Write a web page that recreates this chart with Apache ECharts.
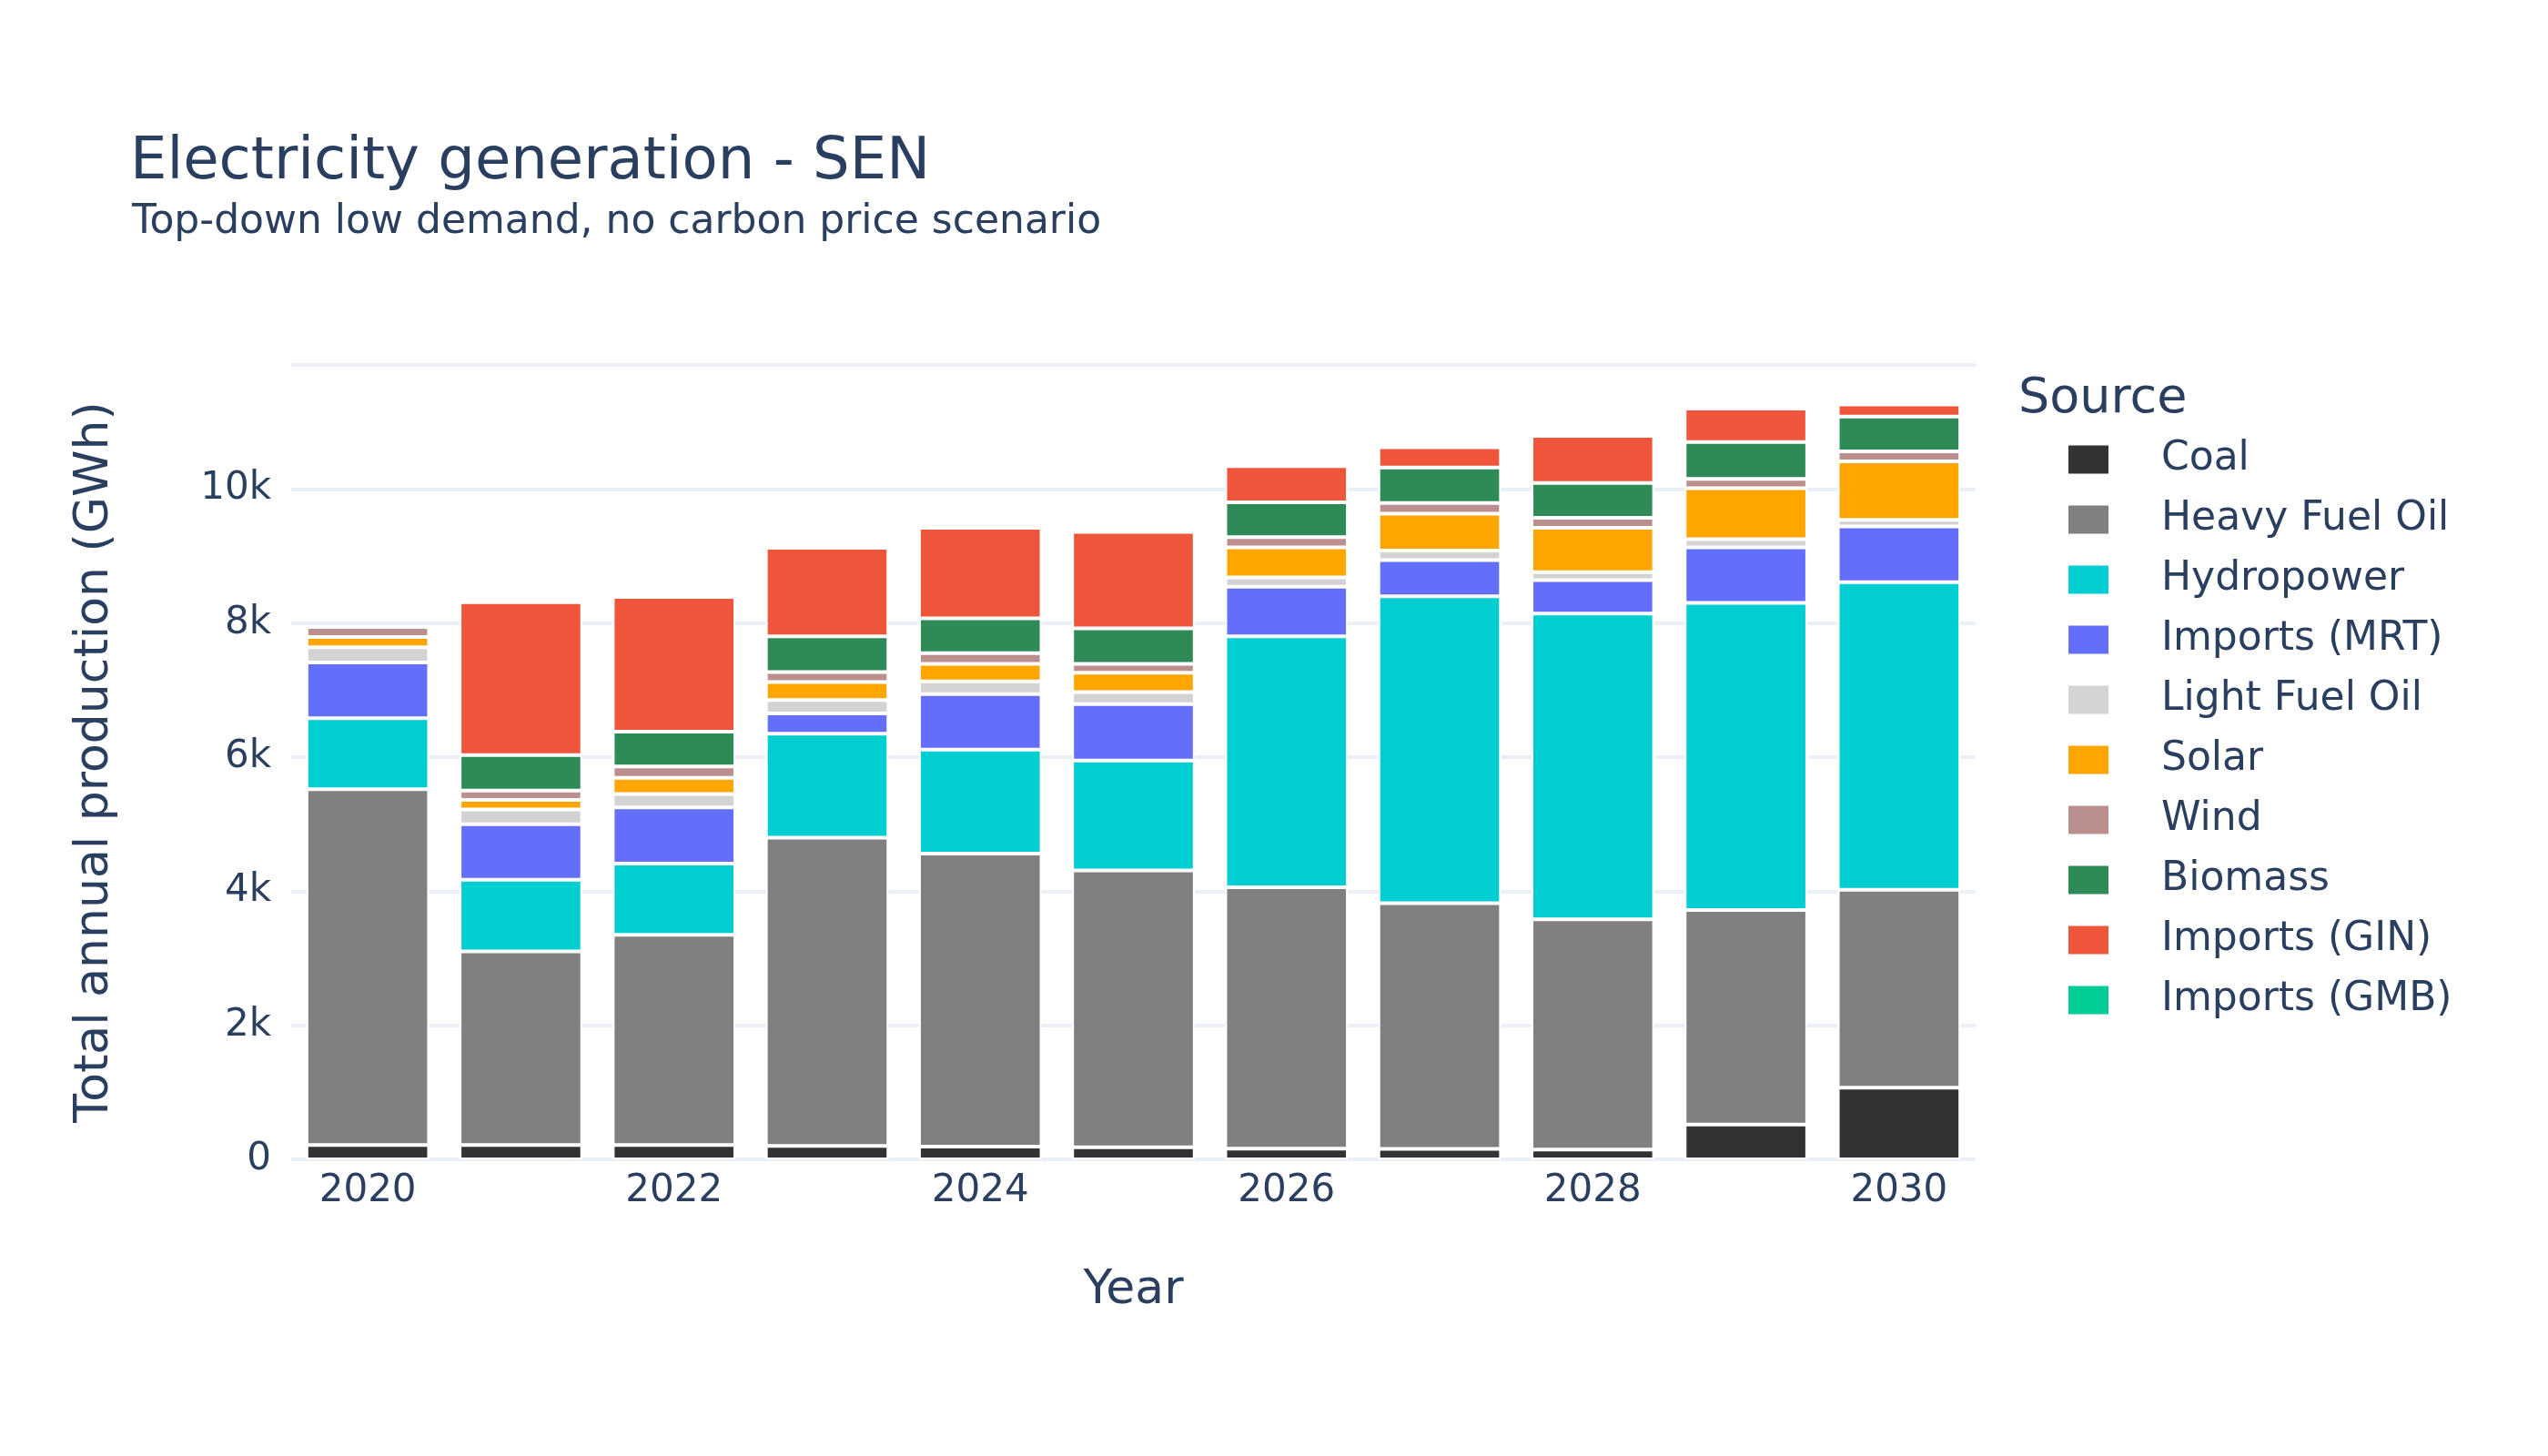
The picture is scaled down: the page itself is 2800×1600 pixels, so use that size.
<!DOCTYPE html>
<html><head><meta charset="utf-8">
<script src="https://cdn.jsdelivr.net/npm/echarts@6/dist/echarts.min.js"></script>
<style>html,body{margin:0;padding:0;background:#fff}#c{width:2800px;height:1600px}</style>
</head><body><div id="c"></div>
<script>
const years = ['2020','2021','2022','2023','2024','2025','2026','2027','2028','2029','2030'];
const coal      = [215, 215, 215, 200, 190, 180, 160, 155, 146, 520, 1070];
const hfo       = [5305, 2885, 3135, 4600, 4370, 4130, 3900, 3665, 3434, 3200, 2950];
const hydro     = [1060, 1070, 1060, 1550, 1550, 1640, 3740, 4580, 4560, 4580, 4590];
const mrt       = [830, 830, 840, 300, 830, 840, 740, 540, 500, 830, 830];
const lfo       = [230, 220, 200, 200, 190, 180, 140, 140, 120, 120, 100];
const solar     = [150, 140, 240, 270, 260, 290, 450, 550, 660, 760, 870];
const wind      = [150, 140, 170, 150, 160, 130, 150, 160, 150, 140, 150];
const biomass   = [0, 530, 520, 530, 520, 530, 520, 530, 520, 550, 520];
const gin       = [0, 2280, 2010, 1320, 1350, 1440, 540, 300, 700, 500, 180];
const gmb       = [0, 0, 0, 0, 0, 40, 0, 0, 0, 0, 0];
const seriesNames = ['Coal','Heavy Fuel Oil','Hydropower','Imports (MRT)','Light Fuel Oil','Solar','Wind','Biomass','Imports (GIN)','Imports (GMB)'];
const seriesData = [coal,hfo,hydro,mrt,lfo,solar,wind,biomass,gin,gmb];
const colors = ['#333333','#808080','#00CED1','#636EFA','#D3D3D3','#FFA500','#BC8F8F','#2E8B57','#EF553B','#00CC96'];
const font = 'DejaVu Sans';
const txt = '#2a3f5f';
const chart = echarts.init(document.getElementById('c'));
chart.setOption({
  animation:false,
  textStyle:{fontFamily:font},
  title:[{text:'Electricity generation - SEN',left:138,top:142,textStyle:{fontFamily:font,fontSize:64,fontWeight:'normal',color:txt}},
         {text:'Top-down low demand, no carbon price scenario',left:140,top:218,textStyle:{fontFamily:font,fontSize:44,fontWeight:'normal',color:txt}}],
  graphic:[{type:'text',left:2218,top:412,style:{text:'Source',font:'54px "DejaVu Sans"',fill:txt}}],
  legend:{orient:'vertical',left:2266,top:478,itemWidth:46,itemHeight:33,itemGap:22,icon:'rect',
    textStyle:{fontFamily:font,fontSize:44,color:txt,padding:[0,0,0,52]},data:seriesNames},
  grid:{left:320,right:629,top:401,bottom:326},
  xAxis:{type:'category',data:years,axisLine:{show:false},axisTick:{show:false},
    axisLabel:{interval:1,fontSize:42,color:txt,margin:14},
    name:'Year',nameLocation:'middle',nameGap:118,nameTextStyle:{fontSize:52,color:txt}},
  yAxis:{type:'value',min:0,max:11850,interval:2000,
    axisLabel:{showMaxLabel:false,fontSize:42,color:txt,margin:22,formatter:v=>v===0?'0':(v/1000)+'k'},
    splitLine:{lineStyle:{color:'#ebf0f8',width:4}},
    name:'Total annual production (GWh)',nameLocation:'middle',nameGap:190,nameTextStyle:{fontSize:52,color:txt}},
  series: seriesNames.map((n,i)=>({name:n,type:'bar',stack:'t',data:seriesData[i],barCategoryGap:'20%',
    itemStyle:{color:colors[i],borderColor:'#fff',borderWidth:2}}))
});
</script></body></html>
